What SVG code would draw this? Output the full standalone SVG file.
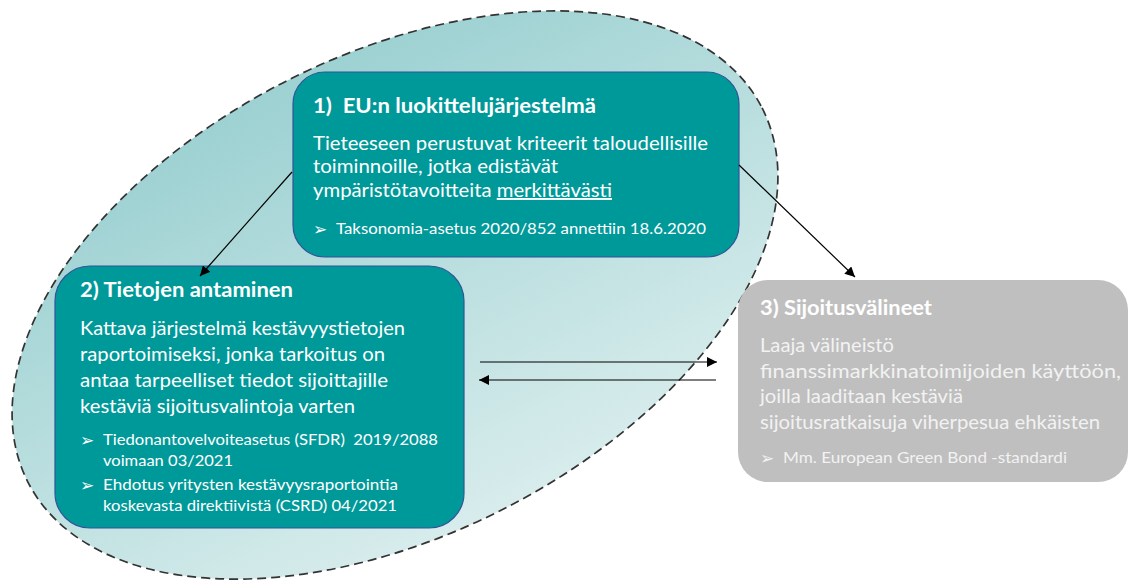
<svg xmlns="http://www.w3.org/2000/svg" width="1129" height="581" viewBox="0 0 1129 581">
<defs>
<linearGradient id="eg" x1="0" y1="0" x2="0" y2="1" gradientUnits="objectBoundingBox">
<stop offset="0" stop-color="#9dd1d2"/>
<stop offset="1" stop-color="#d8ecec"/>
</linearGradient>
<marker id="ah" viewBox="0 0 10 10" refX="10" refY="5" markerWidth="10" markerHeight="10" markerUnits="userSpaceOnUse" orient="auto">
<path d="M0,0 L10,5 L0,10 z" fill="#000"/>
</marker>
<style>
.box{fill:#009999;stroke:#2f5597;stroke-width:1.2}
.gbox{fill:#bfbfbf}
.t{font-family:Lato,"Open Sans","Liberation Sans",sans-serif;fill:#fff}
.h{font-weight:bold;font-size:20px}
.b{font-size:19px}
.s{font-size:15px}
.ar{font-family:"DejaVu Sans",sans-serif;font-size:17px;fill:#fff}
.g{fill:#f2f2f2}
.c{stroke:#000;stroke-width:1.2;fill:none;marker-end:url(#ah)}
</style>
</defs>
<rect width="1129" height="581" fill="#fff"/>
<g id="scope">
<ellipse cx="395" cy="295" rx="412" ry="240" transform="rotate(-27 395 295)" fill="url(#eg)" stroke="#333" stroke-width="1.7" stroke-dasharray="9 5"/>
</g>
<g id="node1">
<rect class="box" x="293" y="72" width="446" height="185" rx="32"/>
<text class="t h" x="313" y="113" textLength="283" lengthAdjust="spacingAndGlyphs" xml:space="preserve">1)  EU:n luokittelujärjestelmä</text>
<text class="t b" x="313" y="150" textLength="395" lengthAdjust="spacingAndGlyphs">Tieteeseen perustuvat kriteerit taloudellisille</text>
<text class="t b" x="313" y="173" textLength="245" lengthAdjust="spacingAndGlyphs">toiminnoille, jotka edistävät</text>
<text class="t b" x="313" y="197" textLength="299" lengthAdjust="spacingAndGlyphs">ympäristötavoitteita <tspan text-decoration="underline">merkittävästi</tspan></text>
<text class="ar" x="313" y="235">➢</text>
<text class="t s" x="336" y="234" textLength="370" lengthAdjust="spacingAndGlyphs">Taksonomia-asetus 2020/852 annettiin 18.6.2020</text>
</g>
<g id="node2">
<rect class="box" x="55" y="266" width="409" height="262" rx="35"/>
<text class="t h" x="80" y="297" textLength="213" lengthAdjust="spacingAndGlyphs">2) Tietojen antaminen</text>
<text class="t b" x="80" y="335" textLength="325" lengthAdjust="spacingAndGlyphs">Kattava järjestelmä kestävyystietojen</text>
<text class="t b" x="80" y="361" textLength="305" lengthAdjust="spacingAndGlyphs">raportoimiseksi, jonka tarkoitus on</text>
<text class="t b" x="80" y="387" textLength="308" lengthAdjust="spacingAndGlyphs">antaa tarpeelliset tiedot sijoittajille</text>
<text class="t b" x="80" y="413" textLength="275" lengthAdjust="spacingAndGlyphs">kestäviä sijoitusvalintoja varten</text>
<text class="ar" x="80" y="446">➢</text>
<text class="t s" x="103" y="445" textLength="335" lengthAdjust="spacingAndGlyphs" xml:space="preserve">Tiedonantovelvoiteasetus (SFDR)  2019/2088</text>
<text class="t s" x="103" y="466" textLength="130" lengthAdjust="spacingAndGlyphs">voimaan 03/2021</text>
<text class="ar" x="80" y="491">➢</text>
<text class="t s" x="103" y="490" textLength="295" lengthAdjust="spacingAndGlyphs">Ehdotus yritysten kestävyysraportointia</text>
<text class="t s" x="103" y="511" textLength="294" lengthAdjust="spacingAndGlyphs">koskevasta direktiivistä (CSRD) 04/2021</text>
</g>
<g id="node3">
<rect class="gbox" x="738" y="280" width="390" height="202" rx="30"/>
<text class="t h" x="760" y="315" textLength="172" lengthAdjust="spacingAndGlyphs">3) Sijoitusvälineet</text>
<text class="t b g" x="760" y="352" textLength="134" lengthAdjust="spacingAndGlyphs">Laaja välineistö</text>
<text class="t b g" x="760" y="378" textLength="361" lengthAdjust="spacingAndGlyphs">finanssimarkkinatoimijoiden käyttöön,</text>
<text class="t b g" x="760" y="403" textLength="203" lengthAdjust="spacingAndGlyphs">joilla laaditaan kestäviä</text>
<text class="t b g" x="760" y="429" textLength="340" lengthAdjust="spacingAndGlyphs">sijoitusratkaisuja viherpesua ehkäisten</text>
<text class="ar g" x="760" y="464">➢</text>
<text class="t s g" x="783" y="463" textLength="284" lengthAdjust="spacingAndGlyphs">Mm. European Green Bond -standardi</text>
</g>
<g id="connectors">
<line class="c" x1="292" y1="172" x2="200" y2="276"/>
<line class="c" x1="739" y1="165" x2="855" y2="277"/>
<line class="c" x1="480" y1="362" x2="717" y2="362"/>
<line class="c" x1="716" y1="380" x2="479" y2="380"/>
</g>
</svg>
